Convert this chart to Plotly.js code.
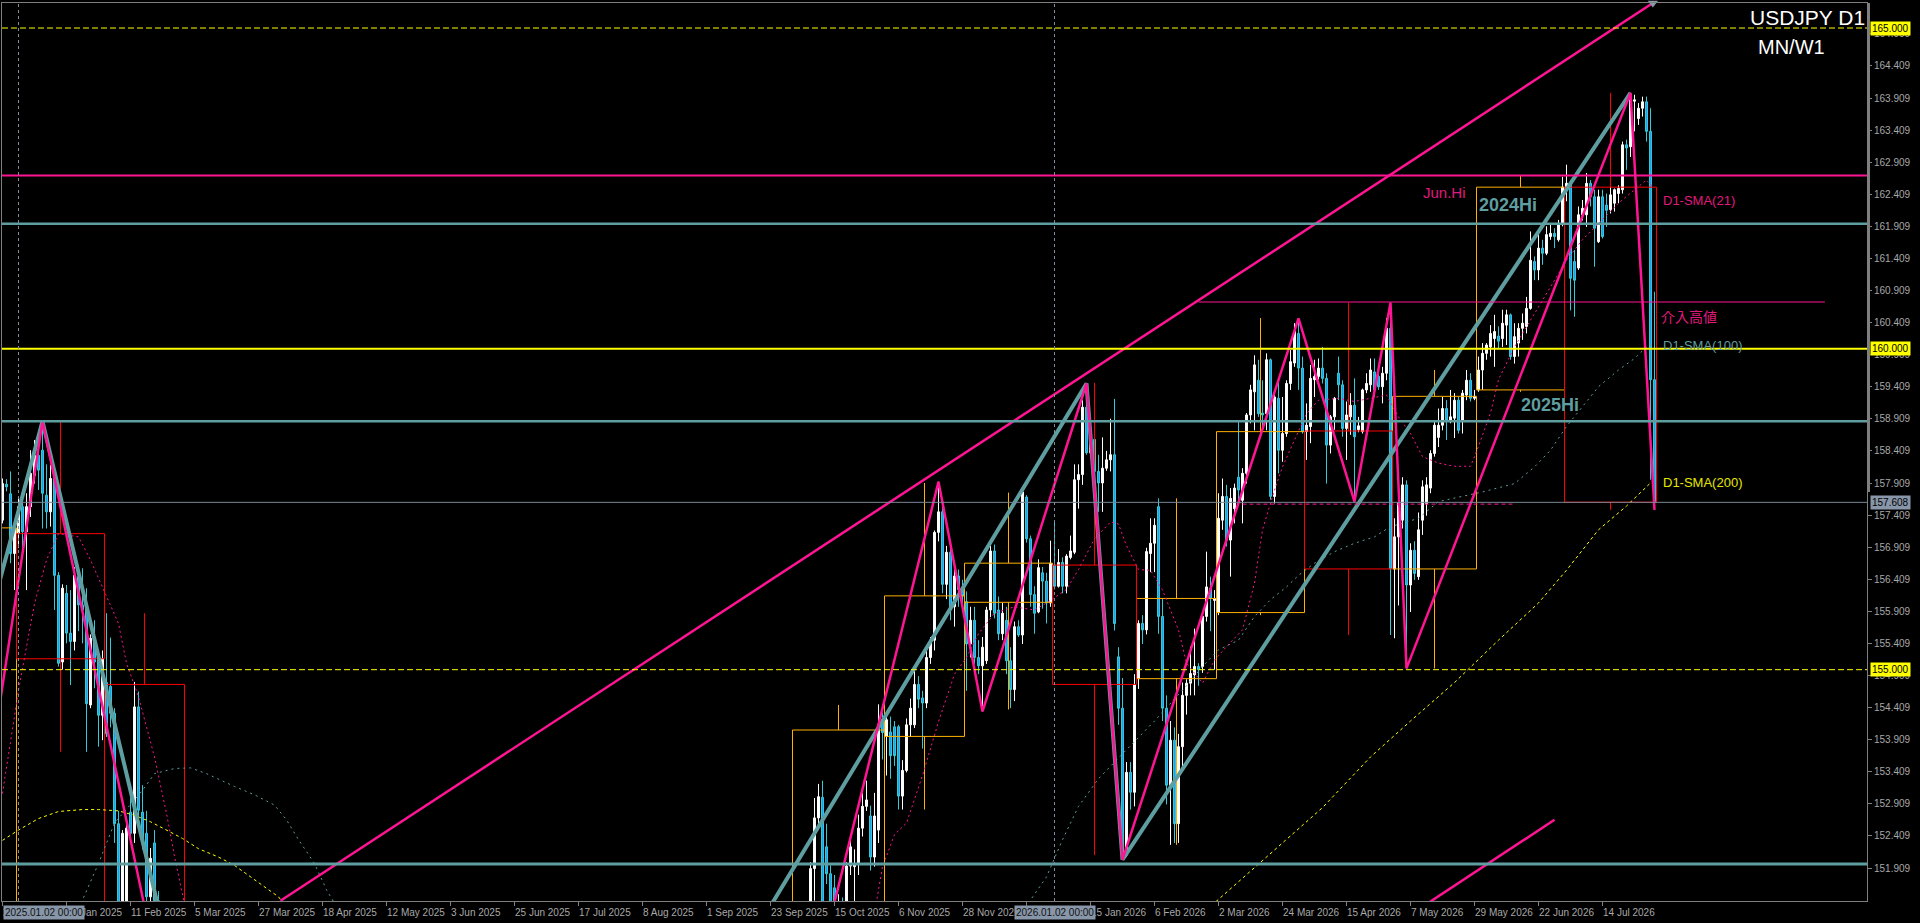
<!DOCTYPE html>
<html><head><meta charset="utf-8">
<script src="https://cdn.plot.ly/plotly-3.0.1.min.js"></script>
<style>html,body{margin:0;padding:0;background:#000;overflow:hidden}#chart{width:1920px;height:923px}</style>
</head><body><div id="chart"></div>
<script>
// ---------------- DATA ----------------
// Daily candles, bar index = trading-day position (bar 0 = 26 Dec 2024)
const leftStart = 0;
const leftOpen  = [157.33,157.89,157.74,156.81,157.12,157.54,157.15,157.54,158.03,158.34,158.42,157.72,157.46,157.98,156.47,155.12,156.19,155.57,155.44,156.45,156.01,155.95,154.45,155.49,155.25,154.29,154.80,154.74,154.32,152.60,150.90,151.00,152.78,152.45,154.42,152.78,152.45,151.46,152.30,151.40];
const leftHigh  = [157.98,157.97,158.09,157.30,157.70,157.62,157.75,158.42,158.58,158.58,158.87,158.20,158.19,158.10,156.52,156.33,156.32,156.24,156.60,156.60,156.58,156.27,155.55,155.77,155.30,155.30,155.88,155.50,154.40,152.80,152.50,152.60,153.20,154.81,154.66,153.20,152.80,152.22,152.50,151.55];
const leftLow   = [157.28,157.78,156.66,156.24,156.90,156.90,156.24,157.38,157.90,157.80,157.20,157.20,157.23,155.93,155.05,155.00,155.41,154.76,155.30,155.60,155.41,153.72,154.40,154.71,153.80,153.90,153.95,154.10,152.30,150.80,150.85,150.70,152.30,152.30,152.70,152.20,151.30,151.30,151.00,150.70];
const leftClose = [157.90,157.85,156.81,157.22,157.54,157.15,157.54,158.06,158.34,158.11,157.75,157.46,157.98,156.47,155.10,156.27,155.57,155.44,156.47,156.01,155.93,154.47,155.49,155.12,154.29,155.17,154.00,154.32,152.60,151.00,152.45,152.53,152.45,154.42,152.81,152.35,151.46,152.06,151.40,150.90];

const midStart = 202;
const midOpen = [
151.20,151.90,152.69,153.01,152.24,151.82,151.60,151.00,151.30,150.90,
151.94,151.93,151.98,152.53,152.87,152.72,152.08,152.50,154.19,153.96,
154.03,154.11,154.11,153.03,153.43,154.14,154.14,154.77,154.56,154.48,
155.19,155.46,157.14,157.46,156.33,156.83,155.98,156.46,156.25,156.06,
155.40,155.77,155.19,155.06,155.14,155.93,156.85,155.93,155.56,155.77,
155.14,154.69,155.67,155.54,157.69,157.04,156.17,155.90,156.51,156.38,
156.04,156.63,156.30,156.67,156.30,156.75,156.83,157.96,158.04,159.09,
158.38,158.59,158.09,157.91,158.14,158.27,158.35,155.20,154.40,152.11,
153.40,153.09,154.86,155.72,155.62,156.81,156.97,157.54,155.83,154.40,
153.20,153.90,152.60,153.80,154.60,154.79,154.92,155.05,155.05,155.83,
156.27,156.08,155.90,157.33,157.70,157.02,157.51,158.00,157.64,158.06,
158.97,159.33,159.51,159.00,158.99,159.83,157.70,159.23,158.42,158.68,
159.46,159.78,160.24,159.70,158.71,158.79,159.52,159.57,159.70,159.54,
158.50,158.94,159.62,159.44,158.76,158.94,159.12,158.74,158.71,159.36,
159.44,159.64,159.57,159.41,159.62,160.32,156.57,157.07,157.33,157.88,
156.32,156.86,156.45,157.33,157.59,157.83,158.37,158.62,158.81,159.07,
158.89,158.92,159.20,158.89,159.28,159.51,159.23,159.36,159.67,159.93,
160.03,160.16,160.20,160.16,160.37,160.53,159.88,160.09,160.32,160.35,
160.63,161.36,161.23,161.57,161.49,161.75,161.80,161.70,161.95,162.52,
162.58,161.36,161.26,162.09,162.09,162.58,162.37,161.67,162.37,162.24,
162.17,162.27,162.42,162.48,163.18,163.15,163.86,163.59,163.75,163.85,
163.39,159.52];
const midHigh = [
152.00,153.00,153.22,153.27,152.60,151.95,151.80,151.50,151.45,152.00,
152.40,152.20,152.74,153.08,153.27,152.88,153.08,154.46,154.33,154.35,
154.27,154.20,154.14,153.59,154.24,154.55,155.03,154.90,154.67,155.35,
155.51,157.17,157.93,157.56,156.93,156.98,156.61,156.56,156.40,156.22,
155.98,155.98,155.46,155.51,155.98,156.93,156.95,156.14,156.04,155.98,
155.35,155.75,155.77,157.80,157.72,157.09,156.30,156.72,156.60,156.51,
157.01,157.30,156.88,156.75,156.80,157.09,158.20,158.20,159.20,159.46,
158.93,158.72,158.35,158.62,158.41,158.91,159.22,155.35,154.87,153.56,
153.56,154.93,155.77,155.85,156.90,157.36,157.36,157.67,156.10,154.60,
154.20,154.10,154.00,154.80,154.85,155.36,155.64,155.10,155.90,156.84,
156.45,156.24,157.75,157.98,157.88,157.83,157.90,158.89,158.14,159.00,
159.44,159.90,159.83,159.51,159.93,159.85,159.30,159.51,159.25,159.51,
159.98,160.40,160.48,159.88,159.15,159.75,159.83,159.85,160.03,159.62,
158.97,159.25,159.88,159.51,159.18,159.31,159.54,158.94,159.38,159.62,
159.85,159.85,159.62,159.72,160.48,160.72,157.36,157.90,158.00,157.95,
156.97,157.00,157.45,157.95,158.00,158.42,158.86,159.07,159.25,159.20,
159.36,159.31,159.25,159.36,159.67,159.62,159.36,159.88,160.09,160.09,
160.37,160.53,160.35,160.61,160.61,160.55,160.40,160.40,160.55,160.81,
161.83,161.44,161.80,161.70,161.91,161.96,161.88,162.01,162.68,162.87,
162.63,161.54,162.22,162.32,162.74,162.63,162.48,162.48,162.48,162.42,
162.55,162.50,162.55,163.23,163.26,163.99,163.96,163.83,163.93,163.93,
163.75,160.89];
const midLow = [
151.10,151.40,152.50,151.10,151.66,151.00,150.80,150.70,150.60,150.80,
151.80,151.30,151.80,152.40,152.80,151.87,151.93,152.30,153.60,153.35,
153.30,153.50,152.82,152.82,153.40,153.95,154.09,154.40,153.77,154.40,
155.09,155.30,157.00,156.19,156.10,155.77,155.67,155.98,155.90,154.67,
155.19,155.09,154.93,154.35,155.09,155.82,155.80,155.46,155.46,154.93,
154.40,154.51,155.51,155.40,156.98,155.98,155.56,155.88,155.95,155.72,
155.98,156.25,156.28,156.19,156.19,156.72,156.80,157.51,157.88,158.35,
158.36,157.46,157.46,157.46,158.10,158.09,155.61,154.14,152.04,152.08,
152.82,152.87,154.70,155.40,155.55,156.52,156.52,155.56,154.20,152.90,
152.27,152.30,152.30,153.50,154.30,154.60,154.60,154.75,154.95,155.75,
155.60,155.00,155.85,157.18,156.92,156.45,157.28,157.64,157.28,157.90,
158.84,158.73,158.94,158.73,158.73,157.65,157.59,158.06,158.24,158.63,
159.36,159.72,159.36,158.68,158.27,158.53,159.25,159.52,159.46,157.90,
158.37,158.74,159.20,158.63,158.27,158.66,157.62,158.70,158.68,159.31,
159.33,159.25,159.36,159.15,159.51,155.54,155.49,156.00,157.20,155.02,
155.90,156.40,156.40,157.10,157.40,157.75,158.32,158.47,158.73,158.58,
158.84,158.61,158.68,158.68,159.20,159.18,159.20,159.33,159.36,159.83,
159.88,159.72,160.01,160.03,160.06,159.83,159.77,159.88,160.14,160.24,
160.61,161.07,161.07,161.31,161.46,161.70,161.57,161.67,161.91,162.30,
160.60,160.50,161.23,162.00,161.90,162.22,161.28,161.65,161.72,161.90,
162.11,162.14,162.27,162.42,162.79,162.99,163.39,163.49,163.62,163.23,
157.96,157.49];
const midClose = [
151.90,152.69,153.02,151.30,151.82,151.20,151.00,151.30,150.90,151.94,
152.24,151.98,152.53,152.87,152.97,152.08,152.72,154.14,154.02,154.22,
153.66,153.66,153.03,153.43,154.14,154.40,154.77,154.54,154.48,155.19,
155.46,157.14,157.46,156.33,156.83,155.98,156.46,156.25,156.15,155.40,
155.77,155.19,155.06,155.35,155.93,156.85,155.88,155.56,155.88,155.14,
154.69,155.67,155.54,157.77,157.04,156.17,155.88,156.59,156.38,156.04,
156.66,156.30,156.67,156.30,156.77,156.85,157.96,158.04,159.09,158.38,
158.59,158.09,157.91,158.14,158.27,158.35,155.72,154.40,152.11,153.40,
153.09,154.77,155.72,155.62,156.84,156.97,157.25,155.83,154.40,153.20,
153.90,152.60,153.80,154.60,154.79,154.94,155.05,155.00,155.83,156.29,
156.11,156.11,157.36,157.70,157.02,157.67,157.83,157.80,158.06,158.97,
159.36,159.75,158.99,158.97,159.83,157.70,159.25,158.42,158.68,159.46,
159.80,160.27,159.70,158.71,158.81,159.54,159.57,159.70,159.54,158.50,
158.94,159.23,159.44,158.76,158.97,159.12,158.63,158.80,159.36,159.46,
159.67,159.36,159.41,159.62,160.32,156.57,157.07,157.60,157.88,156.32,
156.86,156.50,157.18,157.85,157.88,158.37,158.81,158.81,159.07,158.89,
158.94,159.20,158.73,159.31,159.51,159.23,159.26,159.67,159.93,160.06,
160.24,160.27,160.12,160.40,160.53,159.88,160.19,160.32,160.40,160.63,
161.38,161.23,161.57,161.49,161.78,161.80,161.75,161.95,162.52,162.58,
161.10,161.07,162.09,162.19,162.58,162.37,161.88,162.37,161.75,162.16,
162.40,162.48,162.50,163.18,163.13,163.88,163.88,163.75,163.85,163.39,
159.52,157.61];

// Monthly (MN) candles drawn as boxes: first/last bar edge, OHLC
const monthName  = ['Dec24','Jan25','Feb25','Oct25','Nov25','Dec25','Jan26','Feb26','Mar26','Apr26','May26','Jun26','Jul26'];
const monthFrom  = [-19.5, 3.5, 25.5, 197.5, 220.5, 240.5, 262.5, 283.5, 303.5, 325.5, 347.5, 368.5, 390.5];
const monthTo    = [3.5, 25.5, 45.5, 220.5, 240.5, 262.5, 283.5, 303.5, 325.5, 347.5, 368.5, 390.5, 413.5];
const monthOpen  = [150.00,157.12,154.77,147.90,153.96,156.05,156.63,154.86,155.89,158.72,156.57,159.36,162.52];
const monthHigh  = [158.08,158.89,155.88,154.45,157.91,157.76,159.47,157.67,160.48,160.72,159.67,162.70,163.99];
const monthLow   = [148.65,153.72,148.50,146.60,152.82,154.38,152.11,152.27,155.85,155.54,155.02,159.33,157.49];
const monthClose = [157.21,155.17,150.60,154.06,156.15,156.66,154.77,156.11,158.71,156.57,159.26,162.52,157.61];

// Moving averages (bar, value); null splits segments
const sma21Bars = [0,4,8,11,14,19,22,25,29,31,34,38,41,43,45,47,null,
  218,220,223,226,230,234,238,241,244,248,253,258,261,266,269,273,277,279,281,284,287,290,294,296,300,303,306,310,313,315,318,320,323,326,329,334,338,342,346,349,352,355,359,363,367,369,372,374,378,383,387,391,395,399,404,408,411,413];
const sma21Vals = [153.07,154.68,156.03,156.71,157.12,157.07,156.71,156.29,155.72,155.10,154.58,153.64,152.76,152.09,151.46,150.90,null,
  151.20,151.93,152.43,152.61,153.35,154.19,154.93,155.19,155.56,155.88,155.98,155.93,156.04,156.25,156.56,157.04,157.30,157.27,156.93,156.56,156.55,156.24,155.62,155.10,154.79,155.15,155.36,155.62,156.35,157.18,157.80,158.16,158.58,158.99,159.20,159.23,159.18,159.23,159.28,158.94,158.68,158.32,158.22,158.17,158.17,158.48,159.00,159.52,160.03,160.55,160.97,161.38,161.70,161.96,162.27,162.48,162.63,162.50];
const sma100Bars = [18,20,24,28,33,35,38,43,47,51,58,63,68,71,74,78,81,83,85,null,
  255,257,261,265,269,274,278,282,288,296,300,304,309,313,317,321,324,328,333,338,343,347,350,354,359,370,378,383,387,391,395,399,404,408,411,413];
const sma100Vals = [151.00,151.41,151.98,152.61,152.97,153.12,153.38,153.46,153.47,153.38,153.18,153.05,152.89,152.66,152.35,151.98,151.57,151.36,151.00,null,
  151.00,151.41,151.77,152.35,152.87,153.30,153.56,153.82,154.20,154.75,155.05,155.31,155.46,155.83,156.09,156.29,156.47,156.66,156.84,156.97,157.07,157.23,157.28,157.36,157.62,157.77,157.90,158.16,158.42,158.79,159.10,159.41,159.67,159.85,160.03,160.09];
const sma200Bars = [0,4,9,14,20,24,29,33,37,41,45,49,54,58,62,66,69,71,null,
  300,310,320,330,342,352,363,374,384,391,399,406,412];
const sma200Vals = [152.34,152.50,152.68,152.79,152.82,152.82,152.80,152.73,152.63,152.50,152.37,152.21,152.08,151.95,151.77,151.59,151.46,151.30,null,
  151.20,151.75,152.30,152.85,153.64,154.20,154.80,155.46,156.04,156.55,157.18,157.55,157.91];

// ZigZag pivots
const zigzagBars   = [-4,10,46,197,234,245,271,280,324,338,347,351,407,413];
const zigzagPrices = [153.10,158.87,148.20,148.60,157.93,154.35,159.46,152.04,160.475,157.62,160.72,155.02,163.99,157.49];
// Teal drawn swing/channel lines
const tealBars   = [-3,10,42,null,190,271,280,407];
const tealPrices = [155.85,158.87,150.50,null,151.11,159.46,152.04,163.99];
// Pink trend lines (anchor points)
const trendBars   = [69.5,412.6,null,350,388];
const trendPrices = [151.40,165.39,null,151.10,152.66];

// Horizontal levels
const levelValues = [165.000,162.70,161.95,160.000,158.87,157.608,155.000,151.97];
const interventionHigh = 160.73;
const interventionFrom = 299, interventionTo = 455.6;
const weeklyLow = 157.58, weeklyFrom = 310, weeklyTo = 378;
// Vertical line objects (bar index) and their time labels
const vlineBars  = [4,263];
const vlineTexts = ['2025.01.02 00:00','2026.01.02 00:00'];
// Price-scale labels
const priceBoxValues = [165.000,160.000,155.000,157.608];

// Axis ticks
const xTickBars = [0,16,32,48,64,80,96,112,128,144,160,176,192,208,224,240,256,272,288,304,320,336,352,368,384,400];
const xTickText = ['26 Dec 2024','20 Jan 2025','11 Feb 2025','5 Mar 2025','27 Mar 2025','18 Apr 2025','12 May 2025','3 Jun 2025','25 Jun 2025','17 Jul 2025','8 Aug 2025','1 Sep 2025','23 Sep 2025','15 Oct 2025','6 Nov 2025','28 Nov 2025','22 Dec 2025','15 Jan 2026','6 Feb 2026','2 Mar 2026','24 Mar 2026','15 Apr 2026','7 May 2026','29 May 2026','22 Jun 2026','14 Jul 2026'];
const yTickVals = [151.909,152.409,152.909,153.409,153.909,154.409,154.909,155.409,155.909,156.409,156.909,157.409,157.909,158.409,158.909,159.409,159.909,160.409,160.909,161.409,161.909,162.409,162.909,163.409,163.909,164.409,164.909];

// Text objects
const chartTitle = 'USDJPY D1';
const chartSub = 'MN/W1';
const labelJunHi = 'Jun.Hi', label2024 = '2024Hi', label2025 = '2025Hi';
const labelSma21 = 'D1-SMA(21)', labelSma100 = 'D1-SMA(100)', labelSma200 = 'D1-SMA(200)';
const labelIntervention = '介入高値';

// ---------------- BUILD ----------------
const PINK='#FF1493', TEAL='#5F9EA0', YEL='#FFFF00', ORANGE='#FFB000', RED='#FF0000', AXC='#7F7F7F', TXT='#A8A8A8';
const FONT='Liberation Sans, Arial, sans-serif';

const candleBar=[], cO=[], cH=[], cL=[], cC=[];
leftOpen.forEach((v,i)=>{candleBar.push(leftStart+i);cO.push(v);cH.push(leftHigh[i]);cL.push(leftLow[i]);cC.push(leftClose[i]);});
midOpen.forEach((v,i)=>{candleBar.push(midStart+i);cO.push(v);cH.push(midHigh[i]);cL.push(midLow[i]);cC.push(midClose[i]);});

const traces=[];
traces.push({type:'candlestick',x:candleBar,open:cO,high:cH,low:cL,close:cC,hoverinfo:'skip',
  increasing:{line:{color:'#FFFFFF',width:1},fillcolor:'#FFFFFF'},
  decreasing:{line:{color:'#33CCD6',width:1},fillcolor:'#1E9BFF'},whiskerwidth:0});

function monthTrace(bull){
  const xs=[],ys=[];
  monthName.forEach((m,i)=>{
    const up = monthClose[i]>=monthOpen[i];
    if(up!==bull) return;
    const top=Math.max(monthOpen[i],monthClose[i]), bot=Math.min(monthOpen[i],monthClose[i]);
    const a=monthFrom[i], b=monthTo[i], mid=(a+b)/2;
    xs.push(a,b,b,a,a,null, mid,mid,null, mid,mid,null);
    ys.push(bot,bot,top,top,bot,null, top,monthHigh[i],null, bot,monthLow[i],null);
  });
  return {type:'scatter',mode:'lines',x:xs,y:ys,hoverinfo:'skip',line:{color:bull?ORANGE:RED,width:1}};
}
traces.push(monthTrace(true));
traces.push(monthTrace(false));

traces.push({type:'scatter',mode:'lines',x:sma200Bars,y:sma200Vals,hoverinfo:'skip',line:{color:YEL,width:1,dash:'3px,3px'}});
traces.push({type:'scatter',mode:'lines',x:sma100Bars,y:sma100Vals,hoverinfo:'skip',line:{color:TEAL,width:1,dash:'2px,4px'}});
traces.push({type:'scatter',mode:'lines',x:sma21Bars,y:sma21Vals,hoverinfo:'skip',line:{color:PINK,width:1,dash:'2px,3px'}});
traces.push({type:'scatter',mode:'lines',x:tealBars,y:tealPrices,hoverinfo:'skip',line:{color:TEAL,width:4}});
traces.push({type:'scatter',mode:'lines',x:zigzagBars,y:zigzagPrices,hoverinfo:'skip',line:{color:PINK,width:2.5}});
traces.push({type:'scatter',mode:'lines',x:trendBars,y:trendPrices,hoverinfo:'skip',line:{color:PINK,width:2.5}});
traces.push({type:'scatter',mode:'markers',x:[trendBars[1]],y:[trendPrices[1]],hoverinfo:'skip',cliponaxis:false,
  marker:{symbol:'triangle-down',size:9,color:'#8A9AAA'}});

const levelStyle=[
  {c:YEL,w:1,d:'6px,3px'},{c:PINK,w:2,d:'solid'},{c:TEAL,w:2.5,d:'solid'},{c:YEL,w:2,d:'solid'},
  {c:TEAL,w:2.5,d:'solid'},{c:'#778899',w:1,d:'solid'},{c:YEL,w:1,d:'6px,3px'},{c:TEAL,w:3,d:'solid'}];
const shapes = levelValues.map((v,i)=>({type:'line',xref:'paper',x0:0,x1:1,yref:'y',y0:v,y1:v,layer:'above',
  line:{color:levelStyle[i].c,width:levelStyle[i].w,dash:levelStyle[i].d}}));
shapes.push({type:'line',xref:'x',x0:interventionFrom,x1:interventionTo,yref:'y',y0:interventionHigh,y1:interventionHigh,layer:'above',line:{color:PINK,width:1}});
shapes.push({type:'line',xref:'x',x0:weeklyFrom,x1:weeklyTo,yref:'y',y0:weeklyLow,y1:weeklyLow,layer:'above',line:{color:PINK,width:1,dash:'4px,3px'}});
vlineBars.forEach(b=>shapes.push({type:'line',xref:'x',x0:b,x1:b,yref:'paper',y0:0,y1:1,layer:'above',line:{color:'#808C9A',width:1,dash:'3px,3px'}}));
shapes.push({type:'line',xref:'paper',x0:1.0008,x1:1.0008,yref:'y',y0:165.39,y1:157.77,layer:'above',line:{color:AXC,width:3}});

const ann=[];
// time-axis labels, left-aligned at their tick like the terminal draws them
xTickBars.forEach((b,i)=>{
  ann.push({xref:'x',yref:'paper',x:b,y:-0.0123,xanchor:'left',yanchor:'middle',showarrow:false,text:xTickText[i],
    xshift:-1,borderpad:0,font:{family:FONT,size:10,color:TXT}});
});
ann.push({xref:'paper',yref:'paper',x:0.99995,y:0.9844,xanchor:'right',yanchor:'middle',showarrow:false,text:chartTitle,font:{family:FONT,size:21,color:'#FFFFFF'}});
ann.push({xref:'paper',yref:'paper',x:0.9405,y:0.951,xanchor:'left',yanchor:'middle',showarrow:false,text:chartSub,font:{family:FONT,size:20,color:'#FFFFFF'}});
ann.push({x:360.4,y:162.43,xanchor:'center',yanchor:'middle',showarrow:false,text:labelJunHi,font:{family:FONT,size:15,color:'#E0197D'}});
ann.push({x:376.4,y:162.24,xanchor:'center',yanchor:'middle',showarrow:false,text:'<b>'+label2024+'</b>',font:{family:FONT,size:18,color:TEAL}});
ann.push({x:386.9,y:159.13,xanchor:'center',yanchor:'middle',showarrow:false,text:'<b>'+label2025+'</b>',font:{family:FONT,size:18,color:TEAL}});
ann.push({x:414.6,y:162.305,xanchor:'left',yanchor:'middle',showarrow:false,text:labelSma21,font:{family:FONT,size:13,color:'#E0197D'}});
ann.push({x:414.2,y:160.51,xanchor:'left',yanchor:'middle',showarrow:false,text:labelIntervention,font:{family:'Noto Sans CJK JP, sans-serif',size:14,color:'#E0197D'}});
ann.push({x:414.6,y:160.045,xanchor:'left',yanchor:'middle',showarrow:false,text:labelSma100,font:{family:FONT,size:13,color:TEAL}});
ann.push({x:414.6,y:157.91,xanchor:'left',yanchor:'middle',showarrow:false,text:labelSma200,font:{family:FONT,size:13,color:'#E6E600'}});
priceBoxValues.forEach((v,i)=>{
  const bid = i===3;
  ann.push({xref:'paper',yref:'y',x:1.0016,y:v,xanchor:'left',yanchor:'middle',showarrow:false,text:v.toFixed(3),
    bgcolor:bid?'#8796A8':'#FFFF00',borderpad:1,font:{family:FONT,size:10,color:'#000000'}});
});
vlineBars.forEach((b,i)=>{
  ann.push(i===0
    ? {xref:'paper',yref:'paper',x:0.0003,y:-0.0123,xanchor:'left',yanchor:'middle',showarrow:false,text:vlineTexts[i],bgcolor:'#8796A8',borderpad:1,font:{family:FONT,size:10,color:'#111111'}}
    : {xref:'x',yref:'paper',x:b,y:-0.0123,xanchor:'center',yanchor:'middle',showarrow:false,text:vlineTexts[i],bgcolor:'#8796A8',borderpad:1,font:{family:FONT,size:10,color:'#111111'}});
});

const layout={
  width:1920,height:923,paper_bgcolor:'#000000',plot_bgcolor:'#000000',
  margin:{l:2,r:53,t:3,b:22,pad:0},showlegend:false,hovermode:false,dragmode:false,
  xaxis:{range:[-0.125,466.125],autorange:false,rangeslider:{visible:false},showgrid:false,zeroline:false,
    showline:true,linecolor:AXC,linewidth:1,mirror:true,ticks:'outside',ticklen:4,tickcolor:AXC,
    tickmode:'array',tickvals:xTickBars,showticklabels:false},
  yaxis:{range:[151.395,165.39],autorange:false,side:'right',showgrid:false,zeroline:false,
    showline:true,linecolor:AXC,linewidth:1,mirror:true,ticks:'outside',ticklen:4,tickcolor:AXC,
    tickmode:'array',tickvals:yTickVals,ticktext:yTickVals.map(v=>v.toFixed(3)),
    tickfont:{family:FONT,size:10,color:TXT}},
  shapes:shapes,annotations:ann
};
Plotly.newPlot('chart',traces,layout,{staticPlot:true,displayModeBar:false});
</script>
</body></html>
